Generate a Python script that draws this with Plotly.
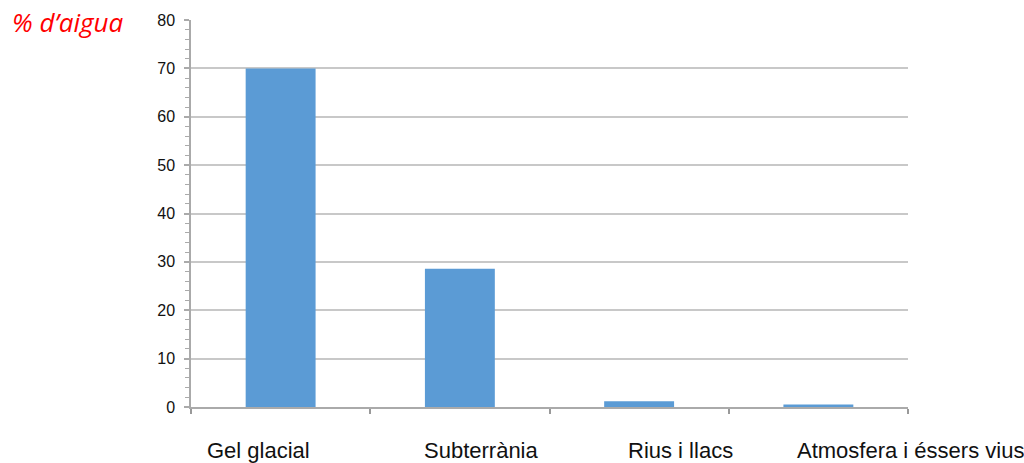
import plotly.graph_objects as go

categories = ["Gel glacial", "Subterrània", "Rius i llacs", "Atmosfera i éssers vius"]
values = [70, 28.6, 1.2, 0.5]
label_shift = [-22, 22, 41, 92]
y_title = "% d’aigua"

fig = go.Figure()
fig.add_trace(go.Bar(x=categories, y=values, marker=dict(color="#5b9bd5", line=dict(width=0)),
                     width=0.39, hoverinfo="skip"))

for c, s in zip(categories, label_shift):
    fig.add_annotation(x=c, y=0, xref="x", yref="y", text=c, showarrow=False,
                       yanchor="top", yshift=-29, xshift=s,
                       font=dict(family="Liberation Sans, Arial", size=22, color="#111111"))

fig.add_annotation(xref="paper", yref="paper", x=-0.252, y=0.9936,
                   xanchor="left", yanchor="middle", text=y_title, showarrow=False,
                   font=dict(family="Open Sans", size=26, color="#ff0000", style="italic"))

fig.update_layout(
    width=1024, height=463,
    margin=dict(l=191, r=116, t=17, b=56),
    plot_bgcolor="white", paper_bgcolor="white",
    showlegend=False,
    bargap=0.61,
    xaxis=dict(type="category", showticklabels=False, tickson="boundaries",
               ticks="outside", ticklen=5, tickcolor="#999999", tickwidth=1.5,
               showline=True, linecolor="#aaaaaa", linewidth=1.5, showgrid=False,
               range=[-0.5, 3.5], fixedrange=True),
    yaxis=dict(range=[0, 80], dtick=10, tick0=0, ticks="outside", ticklen=5,
               tickcolor="#aaaaaa", tickwidth=1.5, showline=True, linecolor="#aaaaaa",
               linewidth=1.5, showgrid=True, gridcolor="#c8c8c8", gridwidth=1.5,
               zeroline=False,
               minor=dict(dtick=2, ticks="outside", ticklen=4, tickcolor="#aaaaaa",
                          tickwidth=1, showgrid=False),
               tickfont=dict(family="Liberation Sans, Arial", size=16, color="#111111"),
               ticklabelstandoff=6, fixedrange=True),
)

fig.write_html("out.html")
